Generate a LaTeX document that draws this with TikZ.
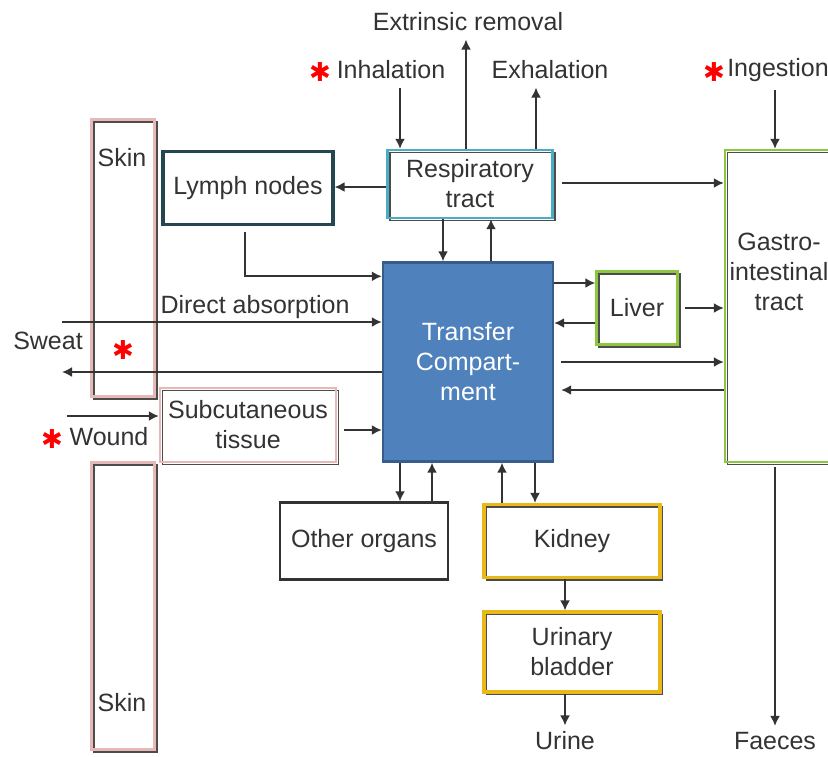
\documentclass[tikz,border=0pt]{standalone}
\usepackage{fontspec}
\setmainfont{Liberation Sans}
\newfontfamily\symfont{DejaVu Sans}
\usetikzlibrary{arrows.meta}
\definecolor{respcol}{HTML}{4BACC6}
\definecolor{lymphcol}{HTML}{23474F}
\definecolor{skincol}{HTML}{E6B9B8}
\definecolor{greencol}{HTML}{8DC63F}
\definecolor{goldcol}{HTML}{EBB81A}
\definecolor{transfill}{HTML}{4F81BD}
\definecolor{transdraw}{HTML}{385D8A}

\begin{document}
\begin{tikzpicture}[x=0.5pt, y=-0.5pt,
  every node/.style={font=\fontsize{12.5}{15}\selectfont, text=black!80, align=center},
  box/.style={draw, line width=1.2pt, inner sep=0pt},
  shadowed/.style={preaction={draw=black!70, line width=0.9pt, transform canvas={shift={(1.2pt,-1.2pt)}}}},
  arr/.style={-{Latex[length=5pt,width=5pt]}, line width=0.9pt, black!80},
  star/.style={text=red, inner sep=0pt, font=\symfont\fontsize{13}{13}\selectfont}]
  \useasboundingbox (0,0) rectangle (828,756);

  \node[box, shadowed, draw=respcol, minimum width=82.5pt, minimum height=34pt] (resp) at (470,184) {Respiratory\\tract};
  \node[box, draw=lymphcol, line width=1.6pt, minimum width=85pt, minimum height=36.5pt] (lymph) at (248,188) {Lymph nodes};
  \node[box, shadowed, draw=skincol, minimum width=31.5pt, minimum height=138.5pt] (skinA) at (123,258) {};
  \node[box, shadowed, draw=skincol, minimum width=31.5pt, minimum height=143.5pt] (skinB) at (123,606) {};
  \node[inner sep=0pt] (skinlabA) at (122,158) {Skin};
  \node[inner sep=0pt] (skinlabB) at (122,703) {Skin};
  \node[box, fill=transfill, draw=transdraw, text=white, minimum width=85pt, minimum height=99.5pt] (trans) at (468,362) {Transfer\\Compart-\\ment};
  \node[box, shadowed, draw=greencol, minimum width=40.5pt, minimum height=36.5pt] (liver) at (637,308) {Liver};
  \node[box, shadowed, draw=greencol, minimum width=65pt, minimum height=156pt] (gi) at (790,306) {};
  \node[inner sep=0pt] (gitext) at (779,272) {Gastro-\\intestinal\\tract};
  \node[box, shadowed, draw=skincol, minimum width=88pt, minimum height=37pt] (subc) at (248,425) {Subcutaneous\\tissue};
  \node[box, draw=black!80, minimum width=84pt, minimum height=38.5pt] (other) at (364,541) {Other organs};
  \node[box, shadowed, draw=goldcol, line width=1.6pt, minimum width=88pt, minimum height=36.5pt] (kidney) at (572,541) {Kidney};
  \node[box, shadowed, draw=goldcol, line width=1.6pt, minimum width=88pt, minimum height=40pt] (bladder) at (572,652) {Urinary\\bladder};

  \node[inner sep=0pt] (extr) at (468,22) {Extrinsic removal};
  \node[inner sep=0pt] (inhal) at (391,70) {Inhalation};
  \node[star] (inhalstar) at (320,72) {✱};
  \node[inner sep=0pt] (exhal) at (550,70) {Exhalation};
  \node[inner sep=0pt] (ingest) at (778,70) {Ingestion};
  \node[star] (ingeststar) at (714,72) {✱};
  \node[inner sep=0pt] (direct) at (255,307) {Direct absorption};
  \node[inner sep=0pt] (sweat) at (48,341) {Sweat};
  \node[star] (skinstar) at (123,350) {✱};
  \node[inner sep=0pt] (wound) at (109,437) {Wound};
  \node[star] (woundstar) at (52,439) {✱};
  \node[inner sep=0pt] (faeces) at (775,741) {Faeces};
  \node[inner sep=0pt] (urine) at (565,741) {Urine};

  \coordinate (dastart) at (62,322);
  \coordinate (swend) at (62,372);
  \coordinate (wostart) at (67,416);

  \draw[arr] ([xshift=4.5pt,yshift=-4pt]inhal.south) -- ([xshift=4.5pt]inhal.south |- resp.north);
  \draw[arr] ([xshift=-1pt]resp.north -| extr.south) -- ([xshift=-1pt,yshift=-4pt]extr.south);
  \draw[arr] ([xshift=-7pt]exhal.south |- resp.north) -- ([xshift=-7pt,yshift=-4pt]exhal.south);
  \draw[arr] ([xshift=-1.5pt,yshift=-4pt]ingest.south) -- ([xshift=-1.5pt]ingest.south |- gi.north);
  \draw[arr] ([yshift=-1.5pt]resp.west) -- ([yshift=-1.5pt]resp.west -| lymph.east);
  \draw[arr, shorten <=4pt] ([yshift=0.5pt]resp.east) -- ([yshift=0.5pt]resp.east -| gi.west);
  \draw[arr] ([xshift=-13.5pt]resp.south) -- ([xshift=-13.5pt]resp.south |- trans.north);
  \draw[arr] ([xshift=10.5pt]resp.south |- trans.north) -- ([xshift=10.5pt]resp.south);
  \draw[arr] ([xshift=-1.5pt,yshift=-3pt]lymph.south) |- ([yshift=-7.5pt]trans.north west);
  \draw[arr] (dastart) -- (dastart -| trans.west);
  \draw[arr] (swend -| trans.west) -- (swend);
  \draw[arr] (wostart) -- (wostart -| subc.west);
  \draw[arr, shorten <=3.5pt] ([yshift=-2.5pt]subc.east) -- ([yshift=-2.5pt]subc.east -| trans.west);
  \draw[arr] ([yshift=12.5pt]liver.west -| trans.east) -- ([yshift=12.5pt]liver.west);
  \draw[arr] ([yshift=-7.5pt]liver.west) -- ([yshift=-7.5pt]liver.west -| trans.east);
  \draw[arr, shorten <=3pt] (liver.east) -- (liver.east -| gi.west);
  \draw[arr, shorten <=3.5pt] (trans.east) -- (trans.east -| gi.west);
  \draw[arr, shorten >=3.5pt] ([yshift=-14pt]trans.east -| gi.west) -- ([yshift=-14pt]trans.east);
  \draw[arr] ([xshift=-34pt]trans.south) -- ([xshift=-34pt]trans.south |- other.north);
  \draw[arr] ([xshift=-18pt]trans.south |- other.north) -- ([xshift=-18pt]trans.south);
  \draw[arr] ([xshift=17pt]trans.south |- kidney.north) -- ([xshift=17pt]trans.south);
  \draw[arr] ([xshift=33.5pt]trans.south) -- ([xshift=33.5pt]trans.south |- kidney.north);
  \draw[arr] ([xshift=-3.5pt]kidney.south) -- ([xshift=-3.5pt]kidney.south |- bladder.north);
  \draw[arr] (bladder.south -| urine.north) -- ([yshift=3pt]urine.north);
  \draw[arr, shorten <=2pt] (gi.south -| faeces.north) -- ([yshift=3pt]faeces.north);
\end{tikzpicture}
\end{document}
